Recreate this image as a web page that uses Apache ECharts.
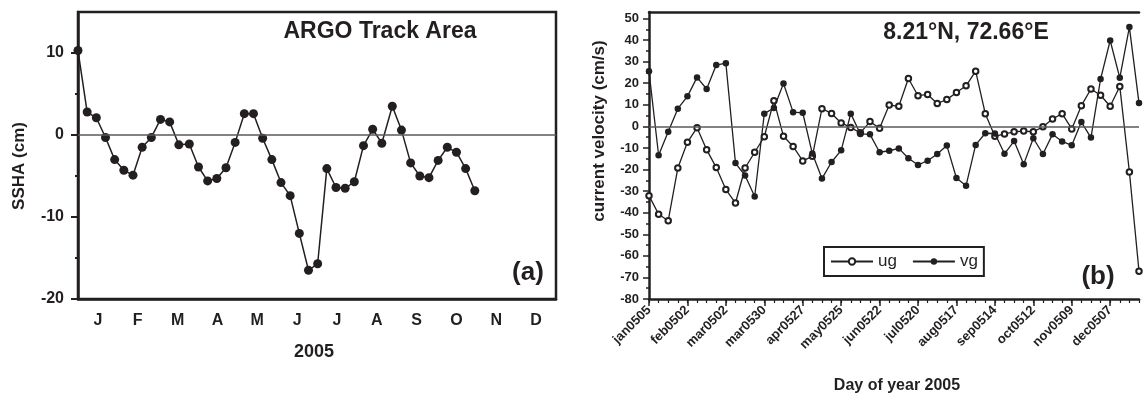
<!DOCTYPE html>
<html>
<head>
<meta charset="utf-8">
<script src="https://cdn.jsdelivr.net/npm/echarts@6/dist/echarts.min.js"></script>
<style>
  html, body { margin: 0; padding: 0; background: #fff; }
  #chart { width: 1143px; height: 395px; }
</style>
</head>
<body>
<div id="chart"></div>
<script>
// panel (a): weekly SSHA, x in day of year
var months = ['J', 'F', 'M', 'A', 'M', 'J', 'J', 'A', 'S', 'O', 'N', 'D'];
var sshaDays = [0, 7, 14, 21, 28, 35, 42, 49, 56, 63, 70, 77, 85, 92, 99, 106, 113, 120, 127, 134, 141, 148,
  155, 162, 169, 176, 183, 190, 197, 204, 211, 218, 225, 232, 240, 247, 254, 261, 268, 275, 282, 289, 296, 303];
var ssha = [10.3, 2.8, 2.1, -0.3, -3.0, -4.3, -4.9, -1.5, -0.3, 1.9, 1.6, -1.2, -1.1, -3.9, -5.6, -5.3, -4.0, -0.9,
  2.6, 2.6, -0.4, -3.0, -5.8, -7.4, -12.0, -16.5, -15.7, -4.1, -6.4, -6.5, -5.7, -1.3, 0.7, -1.0, 3.5, 0.6,
  -3.4, -5.0, -5.2, -3.1, -1.5, -2.1, -4.1, -6.8];
var sshaMajor = [-20, -10, 0, 10];
var sshaMinor = [-15, -5, 5];

// panel (b): weekly geostrophic current
var weeks = ['jan0505', 'jan0512', 'jan0519', 'jan0526', 'feb0502', 'feb0509', 'feb0516', 'feb0523',
  'mar0502', 'mar0509', 'mar0516', 'mar0523', 'mar0530', 'apr0506', 'apr0513', 'apr0520', 'apr0527',
  'may0504', 'may0511', 'may0518', 'may0525', 'jun0501', 'jun0508', 'jun0515', 'jun0522', 'jun0529',
  'jul0506', 'jul0513', 'jul0520', 'jul0527', 'aug0503', 'aug0510', 'aug0517', 'aug0524', 'aug0531',
  'sep0507', 'sep0514', 'sep0521', 'sep0528', 'oct0505', 'oct0512', 'oct0519', 'oct0526', 'nov0502',
  'nov0509', 'nov0516', 'nov0523', 'nov0530', 'dec0507', 'dec0514', 'dec0521', 'dec0528'];
var ug = [-32.1, -40.7, -43.7, -19.3, -7.4, -0.6, -10.8, -19.1, -29.3, -35.5, -19.3, -12.0, -4.8, 11.9,
  -4.6, -9.3, -16.0, -13.9, 8.2, 6.0, 1.6, -0.5, -3.0, 2.2, -0.9, 9.9, 9.3, 22.2, 14.2, 14.8, 10.6, 12.4,
  15.7, 18.8, 25.6, 5.9, -4.6, -3.5, -2.5, -2.2, -2.5, -0.2, 3.4, 5.9, -1.2, 9.6, 17.3, 14.4, 9.3, 18.5,
  -21.1, -67.1];
var vg = [25.5, -13.4, -2.5, 8.2, 13.9, 22.7, 17.3, 28.4, 29.3, -17.0, -22.8, -32.5, 5.9, 8.5, 19.9, 6.6,
  6.3, -12.6, -24.2, -16.5, -11.1, 5.9, -3.5, -3.7, -12.0, -11.3, -10.2, -14.8, -17.9, -15.9, -12.8, -8.9,
  -23.9, -27.5, -8.6, -3.2, -3.3, -12.7, -6.8, -17.5, -5.5, -12.8, -3.7, -7.0, -8.8, 2.0, -5.2, 21.9,
  39.8, 22.5, 46.0, 10.8];
var velMajor = [-80, -70, -60, -50, -40, -30, -20, -10, 0, 10, 20, 30, 40, 50];
var velMinor = [-75, -65, -55, -45, -35, -25, -15, -5, 5, 15, 25, 35, 45];

var FONT = '"Liberation Sans", Arial, sans-serif';
var INK = '#231f20';
var chart = echarts.init(document.getElementById('chart'));

// grey reference line at y = 0
function zeroLine() {
  return {
    silent: true,
    symbol: 'none',
    label: { show: false },
    emphasis: { disabled: true },
    lineStyle: { color: '#5a5a5a', width: 1.5, type: 'solid' },
    data: [{ yAxis: 0 }]
  };
}

function txt(x, y, text, size, rot) {
  return {
    type: 'text', x: x, y: y, rotation: rot || 0,
    style: {
      text: text, fill: INK, align: 'center', verticalAlign: 'middle',
      font: 'bold ' + size + 'px ' + FONT
    }
  };
}

var option = {
  animation: false,
  backgroundColor: '#fff',
  textStyle: { fontFamily: FONT },
  grid: [
    { left: 78, top: 12, width: 478, height: 287, show: true, borderColor: INK, borderWidth: 2.5 },
    { left: 649, top: 12, width: 490, height: 287 }
  ],
  xAxis: [
    {
      gridIndex: 0, type: 'category', data: months, boundaryGap: true, position: 'bottom',
      axisLine: { onZero: false, lineStyle: { color: INK, width: 2.5 } },
      axisTick: { length: 6, lineStyle: { width: 2 } },
      axisLabel: { color: INK, fontWeight: 'bold', fontSize: 16, margin: 14 },
      splitLine: { show: false }
    },
    { gridIndex: 0, type: 'value', min: 0, max: 365, show: false, position: 'bottom' },
    {
      gridIndex: 1, type: 'category', data: weeks, boundaryGap: false, position: 'bottom',
      axisLine: { onZero: false, lineStyle: { color: INK, width: 2.5 } },
      axisTick: { interval: 3, length: 7, lineStyle: { width: 1.5 } },
      axisLabel: { interval: 3, rotate: 45, color: INK, fontWeight: 'bold', fontSize: 13, margin: 9 },
      splitLine: { show: false }
    },
    {
      gridIndex: 1, type: 'category', data: weeks, boundaryGap: false, position: 'bottom',
      axisLine: { show: false, onZero: false },
      axisTick: { interval: 0, length: 4, lineStyle: { color: INK, width: 1.2 } },
      axisLabel: { show: false }, splitLine: { show: false }
    },
    {
      gridIndex: 1, type: 'category', data: weeks, boundaryGap: false, position: 'top',
      axisLine: { onZero: false, lineStyle: { color: INK, width: 2.5 } },
      axisTick: { show: false }, axisLabel: { show: false }, splitLine: { show: false }
    }
  ],
  yAxis: [
    {
      gridIndex: 0, type: 'value', min: -20, max: 15, position: 'left',
      axisLine: { show: true, onZero: false, lineStyle: { color: INK, width: 2.5 } },
      axisTick: { show: true, length: 7, customValues: sshaMajor, lineStyle: { width: 2 } },
      axisLabel: { customValues: sshaMajor, color: INK, fontWeight: 'bold', fontSize: 16, margin: 14 },
      splitLine: { show: false }
    },
    {
      gridIndex: 0, type: 'value', min: -20, max: 15, position: 'left',
      axisLine: { show: false, onZero: false },
      axisTick: { show: true, length: 3, customValues: sshaMinor, lineStyle: { color: INK, width: 2 } },
      axisLabel: { show: false }, splitLine: { show: false }
    },
    {
      gridIndex: 1, type: 'value', min: -80, max: 53, position: 'left',
      axisLine: { show: true, onZero: false, lineStyle: { color: INK, width: 2.5 } },
      axisTick: { show: true, length: 6, customValues: velMajor, lineStyle: { width: 1.5 } },
      axisLabel: { customValues: velMajor, color: INK, fontWeight: 'bold', fontSize: 13, margin: 10 },
      splitLine: { show: false }
    },
    {
      gridIndex: 1, type: 'value', min: -80, max: 53, position: 'left',
      axisLine: { show: false, onZero: false },
      axisTick: { show: true, length: 3, customValues: velMinor, lineStyle: { color: INK, width: 1.5 } },
      axisLabel: { show: false }, splitLine: { show: false }
    }
  ],
  legend: {
    left: 824, top: 247,
    data: ['ug', 'vg'],
    borderColor: INK, borderWidth: 2, borderRadius: 0,
    padding: [6, 6, 6, 6],
    itemWidth: 42, itemHeight: 8, itemGap: 15,
    textStyle: { color: INK, fontSize: 17, fontFamily: FONT }
  },
  series: [
    {
      type: 'line', xAxisIndex: 1, yAxisIndex: 0,
      data: sshaDays.map(function (d, i) { return [d, ssha[i]]; }),
      symbol: 'circle', symbolSize: 9, showAllSymbol: true,
      itemStyle: { color: INK },
      lineStyle: { color: INK, width: 1.5 },
      markLine: zeroLine(), z: 3
    },
    {
      name: 'ug', type: 'line', xAxisIndex: 2, yAxisIndex: 2, data: ug,
      symbol: 'emptyCircle', symbolSize: 5.5, showAllSymbol: true,
      itemStyle: { color: INK, borderColor: INK, borderWidth: 1 },
      lineStyle: { color: INK, width: 1.3 },
      markLine: zeroLine(), z: 3
    },
    {
      name: 'vg', type: 'line', xAxisIndex: 2, yAxisIndex: 2, data: vg,
      symbol: 'circle', symbolSize: 6.5, showAllSymbol: true,
      itemStyle: { color: INK },
      lineStyle: { color: INK, width: 1.3 },
      z: 4
    }
  ],
  graphic: [
    txt(380, 32, 'ARGO Track Area', 23),
    txt(528, 273, '(a)', 26),
    txt(966, 33, '8.21°N, 72.66°E', 23),
    txt(1098, 277, '(b)', 26),
    txt(19, 166, 'SSHA (cm)', 17, Math.PI / 2),
    txt(314, 352, '2005', 18),
    txt(599, 131, 'current velocity (cm/s)', 17, Math.PI / 2),
    txt(897, 386, 'Day of year 2005', 16)
  ]
};

chart.setOption(option);
window.addEventListener('resize', function () { chart.resize(); });
</script>
</body>
</html>
